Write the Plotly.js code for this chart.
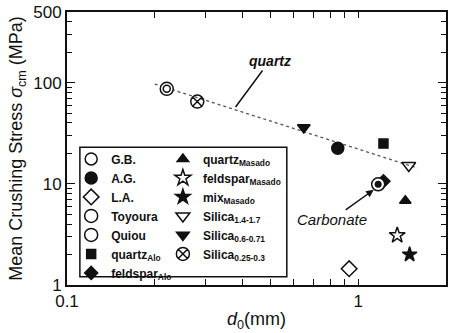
<!DOCTYPE html>
<html><head><meta charset="utf-8">
<script src="https://cdn.plot.ly/plotly-3.0.1.min.js"></script>
<style>html,body{margin:0;padding:0;background:#fff}</style>
</head><body><div id="chart" style="width:450px;height:333px"></div>
<script>
// Data (d0 in mm, mean crushing stress in MPa)
const gb_x = [null], gb_y = [null];
const ag_x = [0.85], ag_y = [22.5];
const la_x = [0.93], la_y = [1.45];
const toyoura_x = [0.22], toyoura_y = [87];
const quiou_x = [1.17], quiou_y = [9.9];
const quartzAlo_x = [1.22], quartzAlo_y = [25];
const feldsparAlo_x = [1.22], feldsparAlo_y = [10.6];
const quartzMasado_x = [1.45], quartzMasado_y = [6.8];
const feldsparMasado_x = [1.36], feldsparMasado_y = [3.1];
const mixMasado_x = [1.5], mixMasado_y = [2.0];
const silica14_x = [1.49], silica14_y = [15.2];
const silica06_x = [0.65], silica06_y = [36];
const silica025_x = [0.28], silica025_y = [65];
const fit_x = [0.2, 1.6], fit_y = [97, 14.3];

const xTicks = [0.1,0.2,0.3,0.4,0.5,0.6,0.7,0.8,0.9,1,2];
const xTickText = ['0.1','','','','','','','','','1','2'];
const yMajor = [1, 10, 100, 500], yMajorText = ['1', '10', '100', '500'];
const yMinor = [2,3,4,5,6,7,8,9,20,30,40,50,60,70,80,90,200,300,400];

const K = '#111';
function pt(name, x, y, symbol, size, legend, rank, extra) {
  return Object.assign({
    type: 'scatter', mode: 'markers', name: name, x: x, y: y, legend: legend, legendrank: rank,
    marker: {symbol: symbol, size: size, color: K, line: {color: K, width: 1.5}}
  }, extra || {});
}
const openM = (sym, size) => ({marker: {symbol: sym, size: size, color: '#fff', line: {color: K, width: 1.5}}});

const traces = [
  {type:'scatter', mode:'lines', x: fit_x, y: fit_y, showlegend:false,
   line:{color:'#555', width:1.3, dash:'dot'}, hoverinfo:'skip'},
  pt('feldspar<sub>Alo</sub>', feldsparAlo_x, feldsparAlo_y, 'diamond', 10, 'legend', 7),
  pt('G.B.', gb_x, gb_y, 'circle-open', 12, 'legend', 1),
  pt('A.G.', ag_x, ag_y, 'circle', 12, 'legend', 2),
  pt('L.A.', la_x, la_y, 'diamond-open', 12, 'legend', 3),
  pt('Toyoura', toyoura_x, toyoura_y, 'circle-open', 13, 'legend', 4, openM('circle', 13)),
  pt('Quiou', quiou_x, quiou_y, 'circle', 13, 'legend', 5, openM('circle', 13)),
  pt('quartz<sub>Alo</sub>', quartzAlo_x, quartzAlo_y, 'square', 9, 'legend', 6),
  pt('quartz<sub>Masado</sub>', quartzMasado_x, quartzMasado_y, 'triangle-up', 10, 'legend2', 1),
  pt('feldspar<sub>Masado</sub>', feldsparMasado_x, feldsparMasado_y, 'star-open', 12, 'legend2', 2),
  pt('mix<sub>Masado</sub>', mixMasado_x, mixMasado_y, 'star', 11, 'legend2', 3),
  pt('Silica<sub>1.4-1.7</sub>', silica14_x, silica14_y, 'triangle-down-open', 12, 'legend2', 4),
  pt('Silica<sub>0.6-0.71</sub>', silica06_x, silica06_y, 'triangle-down', 11, 'legend2', 5),
  pt('Silica<sub>0.25-0.3</sub>', silica025_x, silica025_y, 'circle-x-open', 13, 'legend2', 6),
  {type:'scatter', mode:'markers', x: toyoura_x, y: toyoura_y, showlegend:false,
   marker:{symbol:'circle-open', size:7, color:K, line:{color:K, width:1.5}}},
  {type:'scatter', mode:'markers', x: quiou_x, y: quiou_y, showlegend:false,
   marker:{symbol:'circle', size:7, color:K}}
];

const FF = 'Arial, Liberation Sans, sans-serif';
const tickFont = {family:FF, size:17, color:K};
const axBase = {
  type:'log', tickmode:'array', ticks:'inside', ticklen:8, tickwidth:1, tickcolor:K,
  showline:true, linecolor:K, linewidth:2, mirror:'allticks', showgrid:false, zeroline:false,
  tickfont: tickFont
};
const legFont = {family:FF, size:12, color:K, weight:'bold'};

const layout = {
  width:450, height:333,
  margin:{l:67, r:4, t:12, b:48},
  paper_bgcolor:'#fff', plot_bgcolor:'#fff',
  xaxis: Object.assign({}, axBase, {
    range:[Math.log10(0.1), Math.log10(2)], tickvals:xTicks, ticktext:xTickText, ticklen:6,
    title:{text:'<i>d</i><sub>0</sub>(mm)', font:{family:FF, size:18, color:K}, standoff:2}
  }),
  yaxis: Object.assign({}, axBase, {
    range:[0, Math.log10(500)], tickvals:yMajor, ticktext:yMajorText,
    minor:{tickmode:'array', tickvals:yMinor, ticks:'inside', ticklen:5, tickwidth:1, tickcolor:K},
    title:{text:'Mean Crushing Stress <i>σ</i><sub>cm</sub> (MPa)', font:{family:FF, size:18, color:K}, standoff:6}
  }),
  legend:{x:0.011, y:0.515, xanchor:'left', yanchor:'top', bgcolor:'rgba(0,0,0,0)', borderwidth:0,
    font:legFont, itemwidth:30, tracegroupgap:0},
  legend2:{x:0.253, y:0.515, xanchor:'left', yanchor:'top', bgcolor:'rgba(0,0,0,0)', borderwidth:0,
    font:legFont, itemwidth:30, tracegroupgap:0},
  shapes:[{type:'rect', xref:'paper', yref:'paper', x0:0.034, x1:0.58, y0:0.03, y1:0.505,
    line:{color:K, width:1.5}, fillcolor:'#fff', layer:'below'}],
  annotations:[
    {x:Math.log10(0.379), y:Math.log10(57.5), xref:'x', yref:'y', text:'<b><i>quartz</i></b>',
     showarrow:true, arrowhead:0, arrowwidth:1.5, arrowcolor:K, ax:34, ay:-46,
     font:{family:FF, size:14, color:K}},
    {x:Math.log10(1.129), y:Math.log10(8.72), xref:'x', yref:'y', text:'<i>Carbonate</i>',
     showarrow:true, arrowhead:2, arrowsize:1, arrowwidth:1.5, arrowcolor:K, ax:-42, ay:30,
     font:{family:FF, size:15, color:K}}
  ]
};
Plotly.newPlot('chart', traces, layout, {displayModeBar:false, staticPlot:true});
</script></body></html>
